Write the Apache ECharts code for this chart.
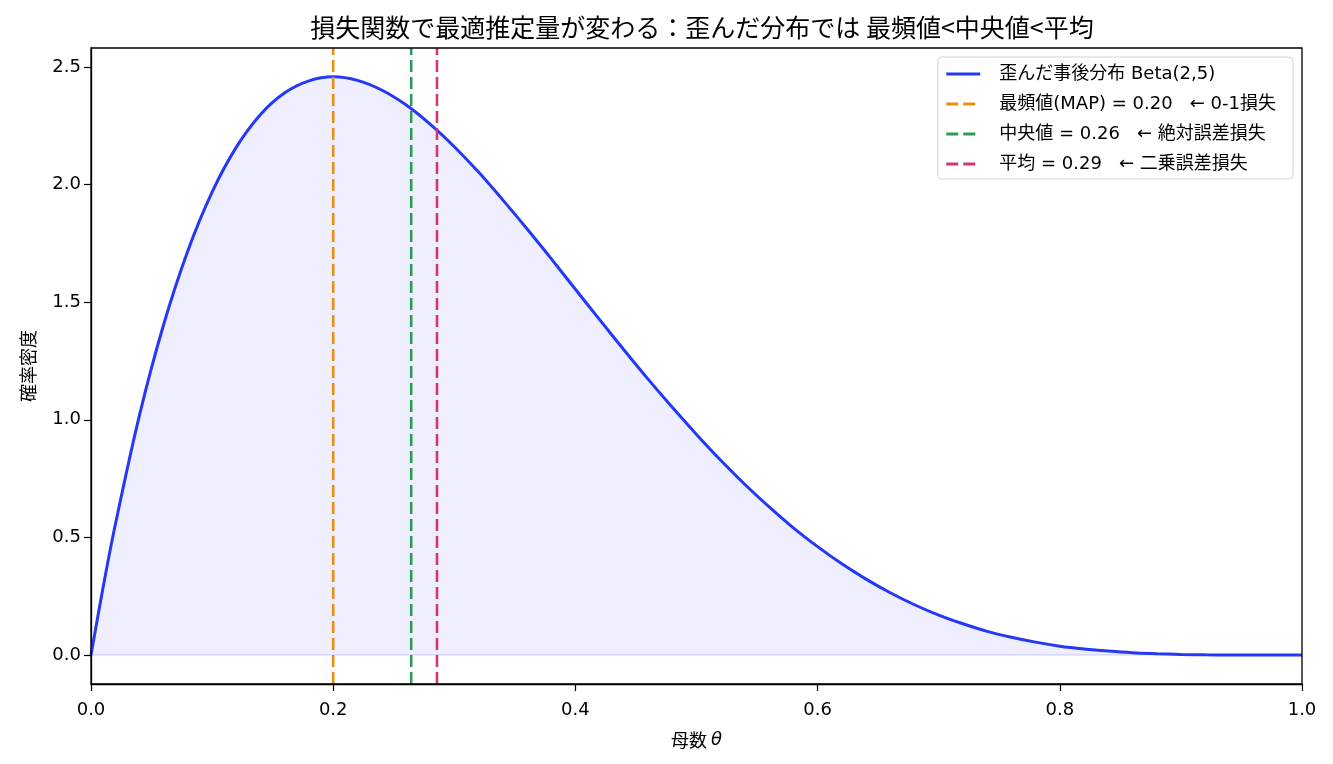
<!DOCTYPE html>
<html>
<head>
<meta charset="utf-8">
<script src="https://cdn.jsdelivr.net/npm/echarts@6/dist/echarts.min.js"></script>
<style>
  html, body { margin: 0; padding: 0; background: #fff; }
  #chart { width: 1333px; height: 764px; }
</style>
</head>
<body>
<div id="chart"></div>
<script>
// 事後分布 Beta(2,5) の密度
const thetas = [0, 0.01, 0.02, 0.04, 0.06, 0.08, 0.10, 0.12, 0.14, 0.16, 0.18, 0.20,
  0.22, 0.24, 0.26, 0.28, 0.30, 0.32, 0.34, 0.36, 0.38, 0.40, 0.42, 0.44, 0.46, 0.48,
  0.50, 0.52, 0.54, 0.56, 0.58, 0.60, 0.62, 0.64, 0.66, 0.68, 0.70, 0.72, 0.74, 0.76,
  0.78, 0.80, 0.82, 0.84, 0.86, 0.88, 0.90, 0.92, 0.94, 0.96, 0.98, 1.00];
const density = [0, 0.288, 0.553, 1.019, 1.405, 1.719, 1.968, 2.159, 2.298, 2.390, 2.441, 2.458,
  2.443, 2.402, 2.339, 2.257, 2.161, 2.053, 1.935, 1.812, 1.685, 1.555, 1.426, 1.298, 1.173, 1.053,
  0.938, 0.828, 0.725, 0.630, 0.541, 0.461, 0.388, 0.323, 0.265, 0.214, 0.170, 0.133, 0.101, 0.076,
  0.055, 0.038, 0.026, 0.017, 0.010, 0.006, 0.003, 0.001, 0.0004, 0.0001, 0, 0];

// 推定量
const estNames = ['最頻値(MAP) = 0.20   ← 0-1損失', '中央値 = 0.26   ← 絶対誤差損失', '平均 = 0.29   ← 二乗誤差損失'];
const estValues = [0.2, 0.2644, 0.2857];
const estColors = ['#e8900c', '#2f9a56', '#d5366e'];

const yTicks = [0, 0.5, 1.0, 1.5, 2.0, 2.5];
const yMin = -0.1229, yMax = 2.5805;

const cjk = '"Noto Sans CJK JP", sans-serif';
const font = '"DejaVu Sans", "Noto Sans CJK JP", sans-serif';

const chart = echarts.init(document.getElementById('chart'));

const curveName = '歪んだ事後分布 Beta(2,5)';

const series = [{
  name: curveName,
  type: 'line',
  data: thetas.map((t, i) => [t, density[i]]),
  smooth: 0.35,
  symbol: 'none',
  lineStyle: { color: '#2438f5', width: 3 },
  itemStyle: { color: '#2438f5' },
  areaStyle: { color: 'rgba(0,0,255,0.095)', origin: 0 },
  z: 2
}, {
  // 塗りつぶしの下端
  name: 'base',
  type: 'line',
  data: [[0, 0], [1, 0]],
  symbol: 'none',
  lineStyle: { color: 'rgba(0,0,255,0.12)', width: 1.5 },
  silent: true,
  z: 1
}];

estValues.forEach((v, i) => {
  series.push({
    name: estNames[i],
    type: 'line',
    data: [[v, yMin], [v, yMax]],
    symbol: 'none',
    lineStyle: { color: estColors[i], width: 2.6, type: [12, 5] },
    itemStyle: { color: estColors[i] },
    z: 3
  });
});

chart.setOption({
  animation: false,
  textStyle: { fontFamily: font },
  title: {
    text: '損失関数で最適推定量が変わる：歪んだ分布では 最頻値<中央値<平均',
    left: 697,
    textAlign: 'center',
    top: 10,
    textStyle: { fontSize: 25, fontWeight: 'normal', color: '#000', fontFamily: cjk }
  },
  grid: { left: 91, right: 31, top: 48, bottom: 80, containLabel: false, show: false },
  legend: {
    orient: 'vertical',
    right: 40,
    top: 57,
    itemWidth: 34,
    itemHeight: 4,
    itemGap: 12,
    padding: [8, 17, 6, 7],
    backgroundColor: 'rgba(255,255,255,0.85)',
    borderColor: '#d4d4d4',
    borderWidth: 1,
    borderRadius: 4,
    itemStyle: { opacity: 0 },
    lineStyle: { width: 3 },
    textStyle: { fontSize: 18, lineHeight: 18, color: '#000', fontFamily: font, padding: [0, 0, 0, 14] },
    data: [curveName].concat(estNames)
  },
  xAxis: {
    type: 'value',
    min: 0,
    max: 1,
    interval: 0.2,
    name: '母数 {t|θ}',
    nameLocation: 'middle',
    nameGap: 47,
    nameTextStyle: {
      fontSize: 18, color: '#000', fontFamily: cjk,
      rich: { t: { fontStyle: 'italic', fontSize: 18, fontFamily: 'DejaVu Sans' } }
    },
    axisLine: { onZero: false, lineStyle: { color: '#000', width: 1.3 } },
    axisTick: { show: true, length: 7, lineStyle: { color: '#000', width: 1.2 } },
    axisLabel: { color: '#000', fontSize: 18, margin: 17, formatter: v => v.toFixed(1) },
    splitLine: { show: false }
  },
  yAxis: {
    type: 'value',
    min: yMin,
    max: yMax,
    name: '確率密度',
    nameLocation: 'middle',
    nameGap: 54,
    nameRotate: 90,
    nameTextStyle: { fontSize: 18, color: '#000', fontFamily: cjk },
    axisLine: { show: true, onZero: false, lineStyle: { color: '#000', width: 1.3 } },
    axisTick: { show: true, length: 7, customValues: yTicks, lineStyle: { color: '#000', width: 1.2 } },
    axisLabel: { color: '#000', fontSize: 18, margin: 10, customValues: yTicks, formatter: v => v.toFixed(1) },
    splitLine: { show: false }
  },
  series: series
});

// 上と右の枠線
chart.setOption({
  graphic: [{
    type: 'rect',
    shape: { x: 91, y: 48, width: 1211, height: 636 },
    style: { fill: 'none', stroke: '#000', lineWidth: 1.3 },
    silent: true,
    z: 10
  }]
});
</script>
</body>
</html>
